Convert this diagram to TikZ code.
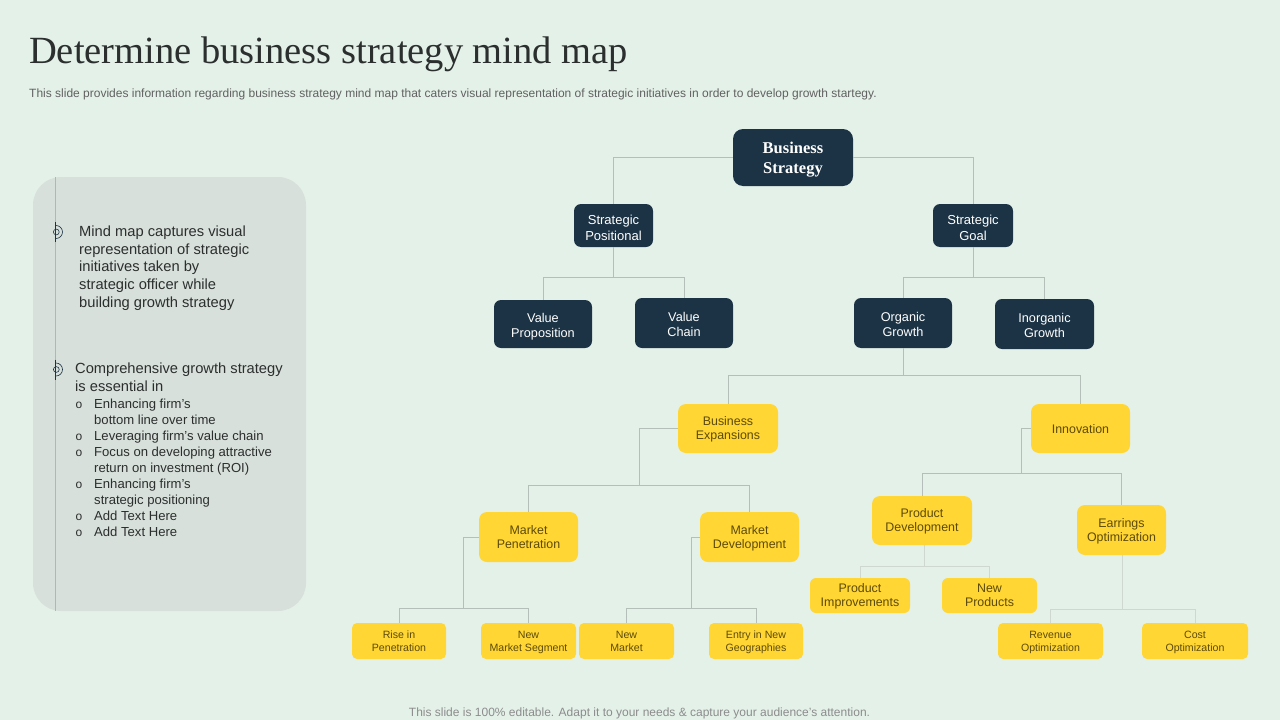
\documentclass[tikz,border=0pt]{standalone}
\usepackage{fontspec}
\setmainfont{Liberation Sans}
\newfontfamily\serifface{Liberation Serif}
\definecolor{bgc}{HTML}{E4F1E9}
\definecolor{panelc}{HTML}{D8E0DB}
\definecolor{navyc}{HTML}{1C3345}
\definecolor{yelc}{HTML}{FFD633}
\definecolor{yeltext}{HTML}{5C4A0A}
\definecolor{linec}{HTML}{B5BFB9}
\definecolor{lightlinec}{HTML}{CFD8D0}
\definecolor{inkc}{HTML}{2B2F2E}
\definecolor{railc}{HTML}{B9B4B4}
\tikzset{
  x=1pt,y=-1pt,
  navybox/.style={fill=navyc,text=white,rounded corners=7pt,inner sep=0pt,align=center,font=\fontsize{12.7}{14.5}\selectfont,text depth=0pt,text height=26.2pt},
  navysmall/.style={navybox,font=\fontsize{13}{16}\selectfont,text height=29.3pt},
  topbox/.style={navybox,rounded corners=10pt,font=\serifface\bfseries\fontsize{16.5}{20}\selectfont,text height=31.9pt},
  yelbox/.style={fill=yelc,text=yeltext,rounded corners=8pt,inner sep=0pt,align=center,font=\fontsize{12.4}{14}\selectfont,text depth=0pt,text height=22.1pt},
  yelsingle/.style={yelbox,text height=9.3pt},
  yelmid/.style={yelbox,rounded corners=6pt,text height=22.5pt},
  yelsmall/.style={yelbox,rounded corners=5pt,font=\fontsize{10.6}{13}\selectfont,text height=21.8pt},
  conn/.style={draw=linec,line width=0.8pt},
  connlight/.style={draw=lightlinec,line width=0.8pt},
  para/.style={anchor=north west,inner sep=0pt,align=left,text=inkc},
  sublist/.style={para,font=\fontsize{13.1}{16}\selectfont},
  markdot/.style={anchor=base,inner sep=0pt,text=inkc,font=\fontsize{12}{16}\selectfont},
}
\begin{document}
\begin{tikzpicture}
\useasboundingbox (0,0) rectangle (1280,720);
\fill[bgc] (0,0) rectangle (1280,720);
% title
\node[anchor=base west,inner sep=0pt,text=inkc,font=\serifface\fontsize{38.5}{40}\selectfont] (title) at (29,63) {Determine business strategy mind map};
\node[anchor=base west,inner sep=0pt,text=black!62,font=\fontsize{12}{14}\selectfont] (sub) at (29,97) {This slide provides information regarding business strategy mind map that caters visual representation of strategic initiatives in order to develop growth startegy.};
\node[anchor=base,inner sep=0pt,text=black!45,font=\fontsize{12}{14}\selectfont] (foot) at (639.5,716) {This slide is 100\% editable. Adapt it to your needs \& capture your audience’s attention.};
% panel
\fill[panelc,rounded corners=28pt] (33,177) rectangle (306,611);
\draw[draw=railc,line width=0.8pt] (55.5,177) -- (55.5,611);
\foreach \yy in {232,369.5}{
  \draw[draw=navyc,line width=0.7pt] (55.5,\yy-10) -- (55.5,\yy+10);
  \draw[draw=navyc,line width=0.6pt] (56.3,\yy) circle (2.9);
  \draw[draw=navyc,line width=0.6pt] (56,\yy-6.5) arc[start angle=-90,end angle=90,radius=6.5];
}
\node[para,font=\fontsize{14.7}{17.8}\selectfont] (p1) at (79,225.5) {Mind map captures visual\\representation of strategic\\initiatives taken by\\strategic officer while\\building growth strategy};
\node[para,font=\fontsize{14.7}{18}\selectfont] (p2) at (75,362.5) {Comprehensive growth strategy\\is essential in};
\node[sublist] (l1) at (94,398.5) {Enhancing firm’s\\bottom line over time\\Leveraging firm’s value chain\\Focus on developing attractive\\return on investment (ROI)\\Enhancing firm’s\\strategic positioning\\Add Text Here\\Add Text Here};
\foreach \yy in {408,440,456,488,520,536}{\node[markdot] at (79,\yy) {o};}
% nodes
\node[topbox,minimum width=120pt,minimum height=57pt] (bs) at (793,157.5) {Business\\Strategy};
\node[navysmall,minimum width=79pt,minimum height=43pt] (sp) at (613.5,225.5) {Strategic\\Positional};
\node[navysmall,minimum width=80pt,minimum height=43pt] (sg) at (973,225.5) {Strategic\\Goal};
\node[navybox,minimum width=98pt,minimum height=48pt] (vp) at (543,324) {Value\\Proposition};
\node[navybox,minimum width=98pt,minimum height=50pt] (vc) at (684,323) {Value\\Chain};
\node[navybox,minimum width=98pt,minimum height=50pt] (og) at (903,323) {Organic\\Growth};
\node[navybox,minimum width=99pt,minimum height=50pt] (ig) at (1044.5,324) {Inorganic\\Growth};
\node[yelbox,minimum width=100pt,minimum height=49pt] (be) at (728,428.5) {Business\\Expansions};
\node[yelsingle,minimum width=99pt,minimum height=49pt] (inn) at (1080.5,428.5) {Innovation};
\node[yelbox,minimum width=99pt,minimum height=50pt] (mp) at (528.5,537) {Market\\Penetration};
\node[yelbox,minimum width=99pt,minimum height=50pt] (md) at (749.5,537) {Market\\Development};
\node[yelbox,minimum width=100pt,minimum height=49pt] (pd) at (922,520.5) {Product\\Development};
\node[yelbox,minimum width=89pt,minimum height=50pt] (eo) at (1121.5,530) {Earrings\\Optimization};
\node[yelmid,minimum width=100pt,minimum height=35pt] (pi) at (860,595.5) {Product\\Improvements};
\node[yelmid,minimum width=95pt,minimum height=35pt] (np) at (989.5,595.5) {New\\Products};
\node[yelsmall,minimum width=94pt,minimum height=36pt] (ri) at (399,641) {Rise in\\Penetration};
\node[yelsmall,minimum width=95pt,minimum height=36pt] (ms) at (528.5,641) {New\\Market Segment};
\node[yelsmall,minimum width=95pt,minimum height=36pt] (nm) at (626.5,641) {New\\Market};
\node[yelsmall,minimum width=94pt,minimum height=36pt] (eg) at (756,641) {Entry in New\\Geographies};
\node[yelsmall,minimum width=105pt,minimum height=36pt] (ro) at (1050.5,641) {Revenue\\Optimization};
\node[yelsmall,minimum width=106pt,minimum height=36pt] (co) at (1195,641) {Cost\\Optimization};
% bus junctions
\coordinate (j1) at (613.5,277);
\coordinate (j2) at (973,277);
\coordinate (j3) at (903,375.5);
\coordinate (j4) at (639,485.5);
\coordinate (j5) at (463.5,608);
\coordinate (j6) at (691.5,608);
\coordinate (j7) at (1021.5,473.5);
\coordinate (j8) at (924,566.5);
\coordinate (j9) at (1122,609.5);
% connectors
\draw[conn] (bs.west) -| (sp.north);
\draw[conn] (bs.east) -| (sg.north);
\draw[conn] (sp.south) -- (j1);
\draw[conn] (j1) -| (vp.north);
\draw[conn] (j1) -| (vc.north);
\draw[conn] (sg.south) -- (j2);
\draw[conn] (j2) -| (og.north);
\draw[conn] (j2) -| (ig.north);
\draw[conn] (og.south) -- (j3);
\draw[conn] (j3) -| (be.north);
\draw[conn] (j3) -| (inn.north);
\draw[conn] (be.west) -| (j4);
\draw[conn] (j4) -| (mp.north);
\draw[conn] (j4) -| (md.north);
\draw[conn] (mp.west) -| (j5);
\draw[conn] (j5) -| (ri.north);
\draw[conn] (j5) -| (ms.north);
\draw[conn] (md.west) -| (j6);
\draw[conn] (j6) -| (nm.north);
\draw[conn] (j6) -| (eg.north);
\draw[conn] (inn.west) -| (j7);
\draw[conn] (j7) -| (pd.north);
\draw[conn] (j7) -| (eo.north);
\draw[connlight] (pd.south -| j8) -- (j8);
\draw[connlight] (j8) -| (pi.north);
\draw[connlight] (j8) -| (np.north);
\draw[connlight] (eo.south -| j9) -- (j9);
\draw[connlight] (j9) -| (ro.north);
\draw[connlight] (j9) -| (co.north);
\end{tikzpicture}
\end{document}
